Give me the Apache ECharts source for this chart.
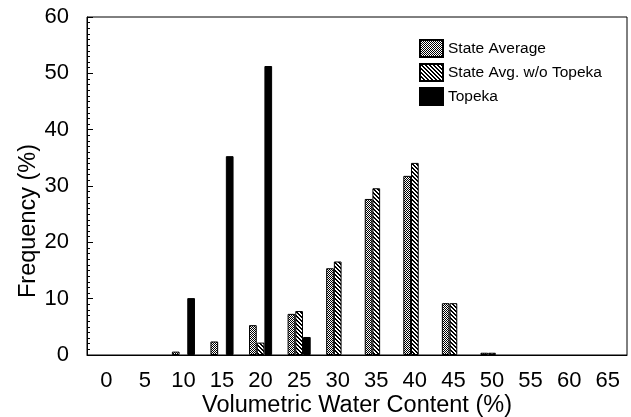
<!DOCTYPE html>
<html>
<head>
<meta charset="utf-8">
<script src="https://cdn.jsdelivr.net/npm/echarts@6/dist/echarts.min.js"></script>
<style>
html,body{margin:0;padding:0;background:#fff;}
#chart{width:631px;height:417px;}
</style>
</head>
<body>
<div id="chart"></div>
<script>
const categories = ['0','5','10','15','20','25','30','35','40','45','50','55','60','65'];
const stateAverage = [null,null,0.6,2.4,5.3,7.3,15.4,27.7,31.8,9.2,0.4,null,null,null];
const stateAvgNoTopeka = [null,null,null,null,2.2,7.8,16.6,29.6,34.1,9.2,0.4,null,null,null];
const topeka = [null,null,10.1,35.3,51.3,3.2,null,null,null,null,null,null,null,null];
const yTicks = [0,10,20,30,40,50,60];

function makePattern(kind){
  const c = document.createElement('canvas');
  c.width = 4; c.height = 4;
  const ctx = c.getContext('2d');
  ctx.fillStyle = '#fff';
  ctx.fillRect(0,0,4,4);
  ctx.fillStyle = '#000';
  for (let y=0;y<4;y++){
    for (let x=0;x<4;x++){
      let on;
      if (kind === 'check') on = (x + y) % 2 === 0;
      else on = ((x - y) % 4 + 4) % 4 < 2;
      if (on) ctx.fillRect(x,y,1,1);
    }
  }
  return {image: c, repeat: 'repeat'};
}

const font = 'Liberation Sans';
const chart = echarts.init(document.getElementById('chart'), null, {renderer:'canvas'});
const barStyle = (color) => ({color: color, borderColor:'#000', borderWidth:1});
chart.setOption({
  animation:false,
  backgroundColor:'#fff',
  grid:{left:87,right:4,top:17,bottom:62,show:true,borderColor:'#000',borderWidth:1,
        containLabel:false, outerBoundsMode:'none'},
  legend:{
    orient:'vertical', left:414, top:34, itemWidth:23, itemHeight:17, itemGap:5, icon:'rect',
    textStyle:{fontFamily:font,fontSize:15.5,color:'#000'},
    data:['State Average','State Avg. w/o Topeka','Topeka']
  },
  xAxis:{
    type:'category', data:categories,
    axisLine:{lineStyle:{color:'#000',width:1}},
    axisTick:{inside:true,length:6,lineStyle:{color:'#000'}},
    axisLabel:{fontFamily:font,fontSize:22,color:'#000',margin:15,interval:0},
    splitLine:{show:false},
    name:'Volumetric Water Content (%)', nameLocation:'middle', nameGap:39, nameMoveOverlap:false,
    nameTextStyle:{fontFamily:font,fontSize:23.5,color:'#000'}
  },
  yAxis:{
    type:'value', min:yTicks[0], max:yTicks[yTicks.length-1], interval:10,
    axisLine:{show:true,lineStyle:{color:'#000',width:1}},
    axisTick:{show:true,inside:true,length:6,lineStyle:{color:'#000'}},
    minorTick:{show:true,splitNumber:10,length:3,lineStyle:{color:'#000'}},
    axisLabel:{fontFamily:font,fontSize:22,color:'#000',margin:18},
    splitLine:{show:false},
    name:'Frequency (%)', nameLocation:'middle', nameGap:46, nameMoveOverlap:false,
    nameTextStyle:{fontFamily:font,fontSize:23.5,color:'#000',padding:[0,70,0,0]}
  },
  series:[
    {name:'State Average',type:'bar',data:stateAverage,barWidth:7.7,barGap:'0%',itemStyle:barStyle(makePattern('check'))},
    {name:'State Avg. w/o Topeka',type:'bar',data:stateAvgNoTopeka,barWidth:7.7,barGap:'0%',itemStyle:barStyle(makePattern('stripe'))},
    {name:'Topeka',type:'bar',data:topeka,barWidth:7.7,barGap:'0%',itemStyle:barStyle('#000')}
  ]
});
</script>
</body>
</html>
